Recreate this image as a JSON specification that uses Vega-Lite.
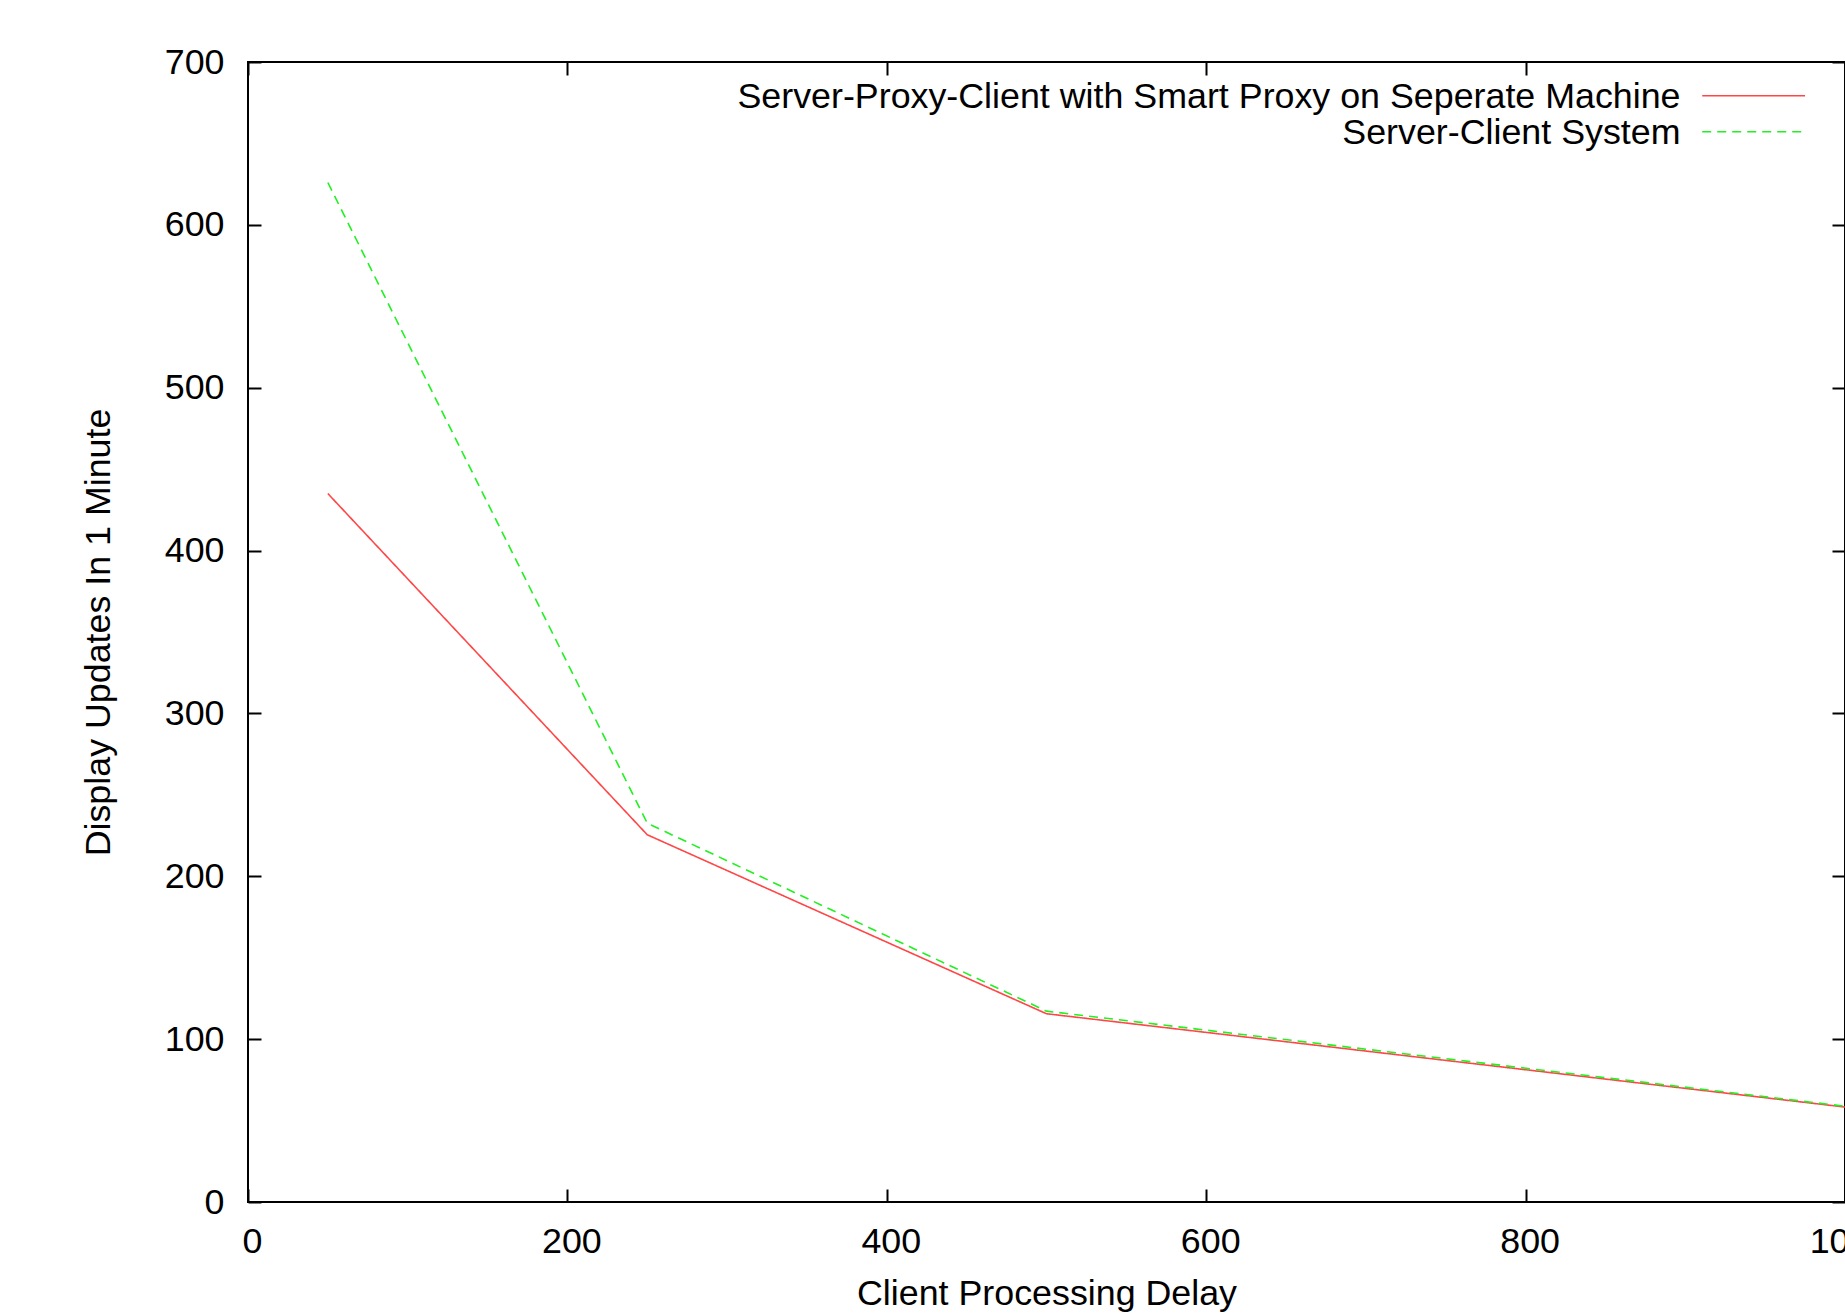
{
  "$schema": "https://vega.github.io/schema/vega-lite/v6.json",
  "width": 1597,
  "height": 1140,
  "autosize": {"type": "none"},
  "padding": {"left": 248, "top": 62, "right": 0, "bottom": 112},
  "background": "white",
  "config": {
    "font": "Liberation Sans",
    "view": {"stroke": "#000000", "strokeWidth": 2},
    "axis": {
      "domain": false,
      "grid": false,
      "tickColor": "#000000",
      "tickWidth": 2,
      "tickSize": -13,
      "labelColor": "#000000",
      "labelFontSize": 35.8,
      "labelFont": "Liberation Sans",
      "labelFlush": false,
      "labelOverlap": false,
      "labelBound": false,
      "titleColor": "#000000",
      "titleFontSize": 35.8,
      "titleFont": "Liberation Sans",
      "titleFontWeight": "normal"
    }
  },
  "data": {
    "values": [
      {"delay": 50, "updates": 435, "series": "Server-Proxy-Client with Smart Proxy on Seperate Machine"},
      {"delay": 250, "updates": 225.5, "series": "Server-Proxy-Client with Smart Proxy on Seperate Machine"},
      {"delay": 500, "updates": 115.6, "series": "Server-Proxy-Client with Smart Proxy on Seperate Machine"},
      {"delay": 1000, "updates": 58.3, "series": "Server-Proxy-Client with Smart Proxy on Seperate Machine"},
      {"delay": 50, "updates": 626, "series": "Server-Client System"},
      {"delay": 250, "updates": 232.6, "series": "Server-Client System"},
      {"delay": 500, "updates": 117.2, "series": "Server-Client System"},
      {"delay": 1000, "updates": 58.8, "series": "Server-Client System"}
    ]
  },
  "layer": [
    {
      "mark": {"type": "line", "strokeWidth": 1.6, "clip": true},
      "encoding": {
        "x": {
          "field": "delay", "type": "quantitative",
          "scale": {"domain": [0, 1000], "nice": false, "zero": false},
          "axis": {
            "orient": "bottom",
            "values": [0, 200, 400, 600, 800, 1000],
            "format": "d",
            "labelBaseline": "alphabetic",
            "labelPadding": 63.5,
            "labelOffset": 4,
            "title": "Client Processing Delay",
            "titleY": 102,
            "titleBaseline": "alphabetic"
          }
        },
        "y": {
          "field": "updates", "type": "quantitative",
          "scale": {"domain": [0, 700], "nice": false, "zero": false},
          "axis": {
            "orient": "left",
            "values": [0, 100, 200, 300, 400, 500, 600, 700],
            "format": "d",
            "labelPadding": 37,
            "title": "Display Updates In 1 Minute",
            "titleX": -139,
            "titleY": 570,
            "titleAngle": 270,
            "titleAlign": "center",
            "titleBaseline": "alphabetic"
          }
        },
        "color": {
          "field": "series", "type": "nominal",
          "scale": {
            "domain": ["Server-Proxy-Client with Smart Proxy on Seperate Machine", "Server-Client System"],
            "range": ["#ff4646", "#22f022"]
          },
          "legend": null
        },
        "strokeDash": {
          "field": "series", "type": "nominal",
          "scale": {
            "domain": ["Server-Proxy-Client with Smart Proxy on Seperate Machine", "Server-Client System"],
            "range": [[1, 0], [9, 6]]
          },
          "legend": null
        }
      }
    },
    {
      "mark": {"type": "line", "strokeOpacity": 0},
      "encoding": {
        "x": {
          "field": "delay", "type": "quantitative",
          "axis": {"orient": "top", "values": [0, 200, 400, 600, 800, 1000], "labels": false, "title": null}
        },
        "y": {
          "field": "updates", "type": "quantitative",
          "axis": {"orient": "right", "values": [0, 100, 200, 300, 400, 500, 600, 700], "labels": false, "title": null}
        },
        "detail": {"field": "series", "type": "nominal"}
      }
    },
    {
      "data": {"values": [{"label": "Server-Proxy-Client with Smart Proxy on Seperate Machine"}]},
      "mark": {"type": "text", "align": "right", "baseline": "alphabetic", "fontSize": 35.8, "font": "Liberation Sans", "color": "#000000"},
      "encoding": {
        "x": {"datum": 897, "type": "quantitative", "axis": null},
        "y": {"datum": 671.7, "type": "quantitative", "axis": null},
        "text": {"field": "label", "type": "nominal"}
      }
    },
    {
      "data": {"values": [{"label": "Server-Client System"}]},
      "mark": {"type": "text", "align": "right", "baseline": "alphabetic", "fontSize": 35.8, "font": "Liberation Sans", "color": "#000000"},
      "encoding": {
        "x": {"datum": 897, "type": "quantitative", "axis": null},
        "y": {"datum": 649.8, "type": "quantitative", "axis": null},
        "text": {"field": "label", "type": "nominal"}
      }
    },
    {
      "data": {"values": [{"label": "Server-Proxy-Client with Smart Proxy on Seperate Machine"}]},
      "mark": {"type": "rule", "color": "#ff4646", "strokeWidth": 1.6},
      "encoding": {
        "x": {"datum": 910.6, "type": "quantitative", "axis": null},
        "x2": {"datum": 975},
        "y": {"datum": 679.3, "type": "quantitative", "axis": null}
      }
    },
    {
      "data": {"values": [{"label": "Server-Client System"}]},
      "mark": {"type": "rule", "color": "#22f022", "strokeWidth": 1.6, "strokeDash": [9, 6]},
      "encoding": {
        "x": {"datum": 910.6, "type": "quantitative", "axis": null},
        "x2": {"datum": 975},
        "y": {"datum": 657.2, "type": "quantitative", "axis": null}
      }
    }
  ],
  "resolve": {"axis": {"x": "independent", "y": "independent"}}
}
